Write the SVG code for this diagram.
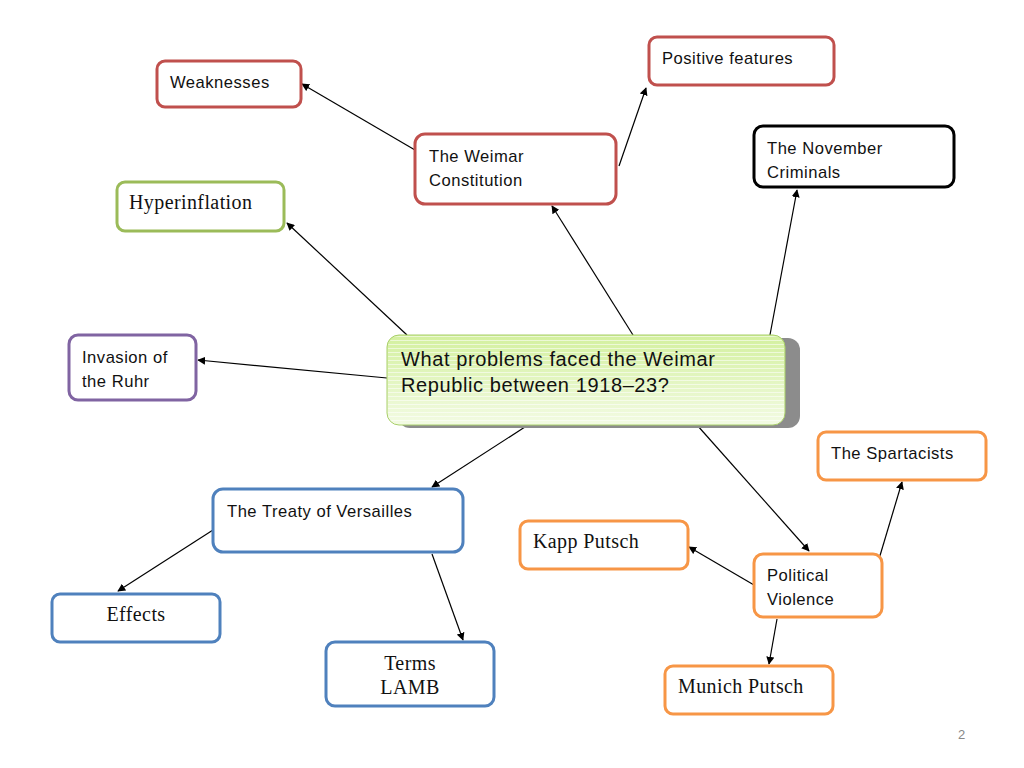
<svg xmlns="http://www.w3.org/2000/svg" width="1024" height="768" viewBox="0 0 1024 768">
<style>
.box{fill:#fff;stroke-width:3}
.red{stroke:#c0504d}
.blk{stroke:#000}
.grn{stroke:#9bbb59}
.pur{stroke:#8064a2}
.blu{stroke:#4f81bd}
.org{stroke:#f79646}
.s{font-family:"Liberation Sans","DejaVu Sans",sans-serif;font-size:16.6px;fill:#111;letter-spacing:0.5px}
.r{font-family:"Liberation Serif","DejaVu Serif",serif;font-size:20px;fill:#111;letter-spacing:0.4px}
.c line{stroke:#000;stroke-width:1.2;marker-end:url(#ah)}
</style>
<defs>
<marker id="ah" viewBox="0 0 10 10" refX="9" refY="5" markerWidth="8" markerHeight="8" markerUnits="userSpaceOnUse" orient="auto">
<path d="M0,0 L10,5 L0,10 z" fill="#000"/>
</marker>
<linearGradient id="cg" x1="0" y1="0" x2="0" y2="1">
<stop offset="0" stop-color="#d3f09e"/>
<stop offset="1" stop-color="#f3fbe4"/>
</linearGradient>
<pattern id="st" width="4" height="4" patternUnits="userSpaceOnUse">
<rect width="4" height="1" fill="#ffffff" opacity="0.55"/>
</pattern>
</defs>
<rect width="1024" height="768" fill="#fff"/>
<g class="c" id="connectors">
<line x1="415" y1="150" x2="302" y2="84"/>
<line x1="619" y1="166" x2="646" y2="88"/>
<line x1="633" y1="335" x2="552" y2="206"/>
<line x1="770" y1="335" x2="797" y2="190"/>
<line x1="407" y1="335" x2="287" y2="223"/>
<line x1="387" y1="378" x2="198" y2="360"/>
<line x1="528" y1="425" x2="432" y2="487"/>
<line x1="697" y1="425" x2="809" y2="551"/>
<line x1="213" y1="530" x2="118" y2="591"/>
<line x1="432" y1="554" x2="463" y2="640"/>
<line x1="754" y1="585" x2="689" y2="547"/>
<line x1="876" y1="569" x2="902" y2="482"/>
<line x1="777" y1="619" x2="769" y2="664"/>
</g>
<g id="central">
<rect x="398" y="338" width="402" height="90" rx="12" fill="#8c8c8c"/>
<rect x="387" y="335" width="398" height="90" rx="12" fill="url(#cg)" stroke="#a9cf6a" stroke-width="1"/>
<rect x="388" y="336" width="396" height="88" rx="11" fill="url(#st)"/>
<text class="s" style="font-size:20px;letter-spacing:0.6px" x="401" y="366">What problems faced the Weimar</text>
<text class="s" style="font-size:20px;letter-spacing:0.6px" x="401" y="392">Republic between 1918–23?</text>
</g>
<g id="weaknesses">
<rect class="box red" x="157" y="61" width="144" height="46" rx="8"/>
<text class="s" x="170" y="88">Weaknesses</text>
</g>
<g id="positive">
<rect class="box red" x="649" y="37" width="185" height="48" rx="8"/>
<text class="s" x="662" y="64">Positive features</text>
</g>
<g id="constitution">
<rect class="box red" x="415" y="134" width="201" height="70" rx="10"/>
<text class="s" x="429" y="162">The Weimar</text>
<text class="s" x="429" y="186">Constitution</text>
</g>
<g id="november">
<rect class="box blk" x="754" y="126" width="200" height="61" rx="9"/>
<text class="s" x="767" y="154">The November</text>
<text class="s" x="767" y="178">Criminals</text>
</g>
<g id="hyperinflation">
<rect class="box grn" x="117" y="182" width="167" height="49" rx="8"/>
<text class="r" x="129" y="209">Hyperinflation</text>
</g>
<g id="ruhr">
<rect class="box pur" x="69" y="335" width="127" height="65" rx="9"/>
<text class="s" x="82" y="363">Invasion of</text>
<text class="s" x="82" y="387">the Ruhr</text>
</g>
<g id="treaty">
<rect class="box blu" x="213" y="489" width="250" height="63" rx="10"/>
<text class="s" x="227" y="517">The Treaty of Versailles</text>
</g>
<g id="effects">
<rect class="box blu" x="52" y="594" width="168" height="48" rx="8"/>
<text class="r" x="136" y="621" text-anchor="middle">Effects</text>
</g>
<g id="terms">
<rect class="box blu" x="326" y="642" width="168" height="64" rx="9"/>
<text class="r" x="410" y="670" text-anchor="middle">Terms</text>
<text class="r" x="410" y="694" text-anchor="middle">LAMB</text>
</g>
<g id="kapp">
<rect class="box org" x="520" y="521" width="168" height="48" rx="8"/>
<text class="r" x="533" y="548">Kapp Putsch</text>
</g>
<g id="political">
<rect class="box org" x="754" y="554" width="128" height="63" rx="9"/>
<text class="s" x="767" y="581">Political</text>
<text class="s" x="767" y="605">Violence</text>
</g>
<g id="spartacists">
<rect class="box org" x="818" y="432" width="168" height="48" rx="8"/>
<text class="s" x="831" y="459">The Spartacists</text>
</g>
<g id="munich">
<rect class="box org" x="665" y="666" width="168" height="48" rx="8"/>
<text class="r" x="678" y="693">Munich Putsch</text>
</g>
<text x="958" y="739" font-family="Liberation Sans,sans-serif" font-size="13" fill="#888">2</text>
</svg>
